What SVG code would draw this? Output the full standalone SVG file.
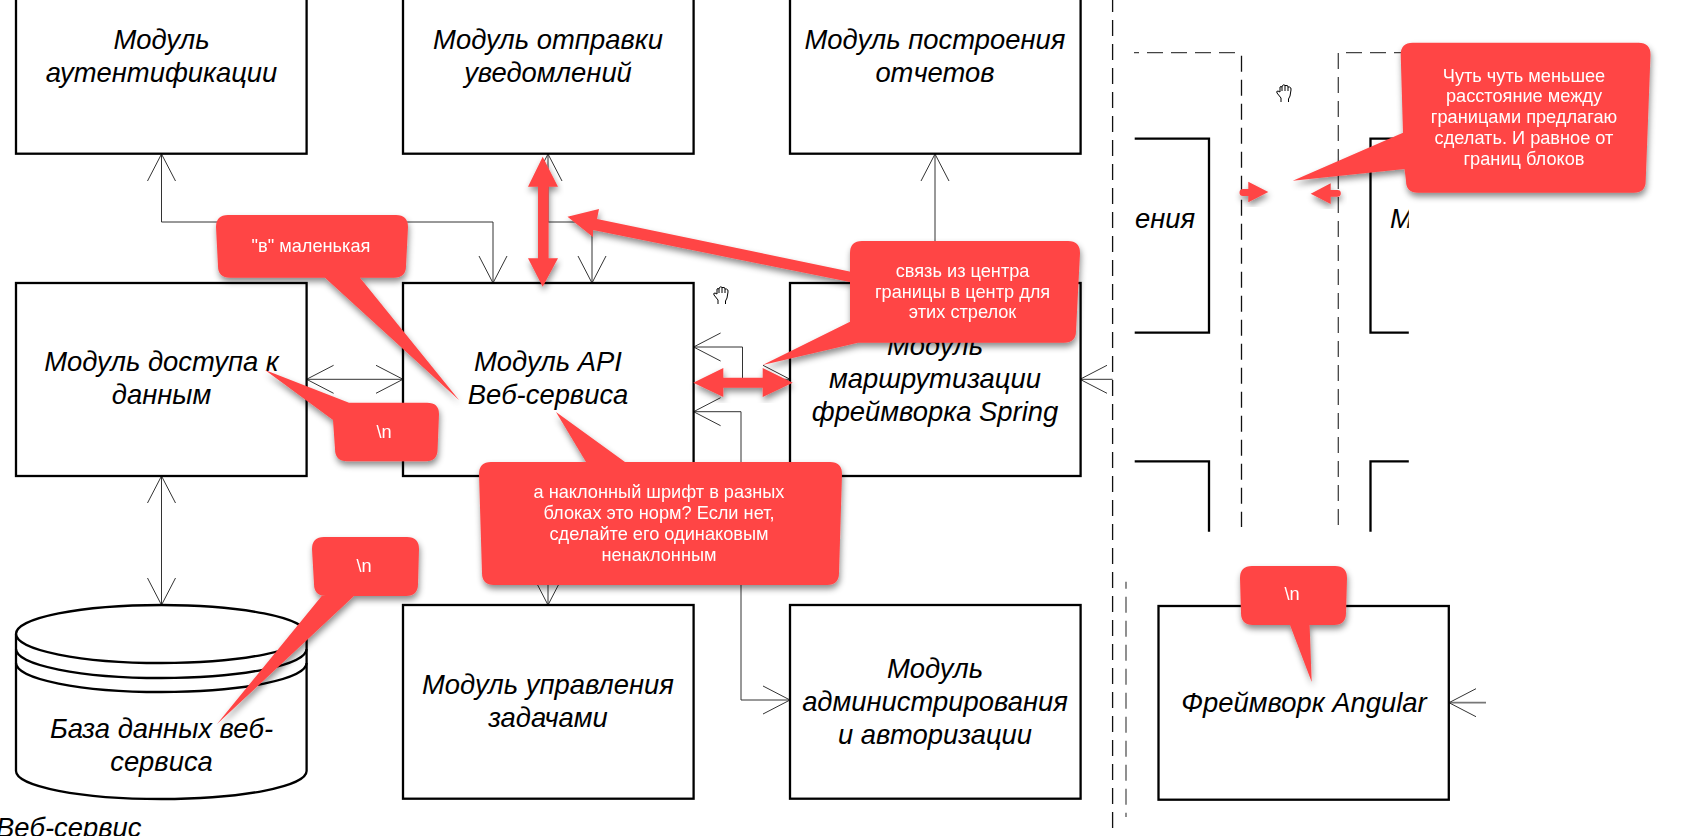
<svg xmlns="http://www.w3.org/2000/svg" width="1691" height="836" viewBox="0 0 1691 836">
<style>
.bg{fill:#fff}
.box{fill:#fff;stroke:#000;stroke-width:2.3}
.open{fill:none;stroke:#000;stroke-width:2.3}
.dash{fill:none;stroke:#111;stroke-width:1.3;stroke-dasharray:16 8}
.c{fill:none;stroke:#333;stroke-width:1}
.t{font-family:"Liberation Sans",Arial,sans-serif;font-style:italic;font-size:27.4px;fill:#000;text-anchor:middle}
.n{font-family:"Liberation Sans",Arial,sans-serif;font-size:18.2px;fill:#fff;text-anchor:middle}
.r{fill:#ff4545}
.hand{fill:#fff;stroke:#000;stroke-width:1}
</style>
<defs>
<marker id="a" markerUnits="userSpaceOnUse" markerWidth="30" markerHeight="32" refX="28" refY="15" orient="auto-start-reverse"><path d="M1 1L28 15L1 29" fill="none" stroke="#333" stroke-width="1"/></marker>
<filter id="s" x="-20%" y="-20%" width="140%" height="140%"><feDropShadow dx="1" dy="4" stdDeviation="3" flood-color="#000" flood-opacity=".45"/></filter>
<clipPath id="mc"><rect x="1370" y="130" width="38.8" height="210"/></clipPath>
<path id="h" d="M5 18V14L1 9Q0 7 2 7L4 8V3Q5 2 6 3L6.5 1.5Q8 0 9 1.5L10 1.5Q12 1 12 3L13.5 3Q15.5 3.5 15 6L14 12L12.5 15V18M6 3V7M9 1.5V7M12 3V7"/>
</defs>
<rect class="bg" width="1691" height="836"/>

<g id="connectors">
<path class="c" d="M161.5 154V222H493V283" marker-start="url(#a)" marker-end="url(#a)"/>
<path class="c" d="M548 154V222H592V283" marker-start="url(#a)" marker-end="url(#a)"/>
<path class="c" d="M935 154V283" marker-start="url(#a)"/>
<path class="c" d="M306.6 379.3H403" marker-start="url(#a)" marker-end="url(#a)"/>
<path class="c" d="M693.6 347H742.5V379.3H790" marker-start="url(#a)" marker-end="url(#a)"/>
<path class="c" d="M693.6 411.7H741V700H790" marker-start="url(#a)" marker-end="url(#a)"/>
<path class="c" d="M741 540H548V605" marker-end="url(#a)"/>
<path class="c" d="M161.5 476V605" marker-start="url(#a)" marker-end="url(#a)"/>
<path class="c" d="M1112.6 379.3H1080" marker-end="url(#a)"/>
<path d="M1486 702.7H1449" fill="none" stroke="#777" stroke-width="1.8"/>
<path d="M1476 688.7L1449 702.7L1476 716.7" fill="none" stroke="#333" stroke-width="1"/>
</g>

<g id="separators">
<path class="dash" d="M1112.6 -4V829"/>
<path class="dash" d="M1126 581.7V817" stroke-dashoffset="9" style="stroke:#555"/>
<path class="dash" d="M1134 52.7H1241.5" stroke-dashoffset="11" style="stroke:#444"/>
<path class="dash" d="M1241.5 55.7V527"/>
<path class="dash" d="M1338.3 525V52.7H1420" style="stroke:#444"/>
</g>

<g id="node-auth"><rect class="box" x="16" y="-40" width="290.6" height="193.7"/><text class="t" x="161.5" y="48.7">Модуль</text><text class="t" x="161.5" y="82">аутентификации</text></g>
<g id="node-notify"><rect class="box" x="403" y="-40" width="290.6" height="193.7"/><text class="t" x="548" y="48.7">Модуль отправки</text><text class="t" x="548" y="82">уведомлений</text></g>
<g id="node-reports"><rect class="box" x="790" y="-40" width="290.6" height="193.7"/><text class="t" x="935" y="48.7">Модуль построения</text><text class="t" x="935" y="82">отчетов</text></g>
<g id="node-data"><rect class="box" x="16" y="283" width="290.6" height="193"/><text class="t" x="161.5" y="370.7">Модуль доступа к</text><text class="t" x="161.5" y="404">данным</text></g>
<g id="node-api"><rect class="box" x="403" y="283" width="290.6" height="193"/><text class="t" x="548" y="370.7">Модуль API</text><text class="t" x="548" y="404">Веб-сервиса</text></g>
<g id="node-routing"><rect class="box" x="790" y="283" width="290.6" height="193"/><text class="t" x="935" y="355">Модуль</text><text class="t" x="935" y="388">маршрутизации</text><text class="t" x="935" y="421">фреймворка Spring</text></g>
<g id="node-db"><path class="box" d="M16 634A145.3 29 0 0 1 306.6 634V771A145.3 28 0 0 1 16 771Z"/><path class="open" d="M16 634A145.3 29 0 0 0 306.6 634M16 649A145.3 29 0 0 0 306.6 649M16 663A145.3 29 0 0 0 306.6 663"/><text class="t" x="161.5" y="738">База данных веб-</text><text class="t" x="161.5" y="770.5">сервиса</text></g>
<g id="node-tasks"><rect class="box" x="403" y="605" width="290.6" height="193.7"/><text class="t" x="548" y="693.5">Модуль управления</text><text class="t" x="548" y="726.5">задачами</text></g>
<g id="node-admin"><rect class="box" x="790" y="605" width="290.6" height="193.7"/><text class="t" x="935" y="677.5">Модуль</text><text class="t" x="935" y="710.5">администрирования</text><text class="t" x="935" y="743.5">и авторизации</text></g>
<g id="node-angular"><rect class="box" x="1158.5" y="606" width="290.3" height="193.7"/><text class="t" x="1304" y="711.5">Фреймворк Angular</text></g>
<g id="node-left-clipped"><path class="open" d="M1134.7 138.7H1209V332.7H1134.7M1134.7 461.3H1209V531.7"/><text class="t" x="1135" y="227.7" style="text-anchor:start">ения</text></g>
<g id="node-right-clipped"><path class="open" d="M1408.8 138.7H1370.5V332.7H1408.8M1408.8 461.3H1370.5V531.7"/><text class="t" x="1390" y="227.7" clip-path="url(#mc)" style="text-anchor:start">М</text></g>
<text class="t" x="-4" y="837" style="text-anchor:start">Веб-сервис</text>

<use href="#h" class="hand" x="713" y="286"/>
<use href="#h" class="hand" x="1276" y="84"/>

<g id="annotations">
<g filter="url(#s)"><path class="r" d="M542.7 156.7L558 186.7H548.6V258.3H558L542.7 286.7L528 258.3H538V186.7H528Z"/></g>
<g filter="url(#s)"><path class="r" d="M693.3 382.7L723.3 368V377.7H762.7V368L792.7 382.7L762.7 397V387.7H723.3V397Z"/></g>
<g filter="url(#s)"><path class="r" d="M1268.3 192L1248.3 202.3V196H1243A3.5 3.5 0 0 1 1243 189H1248.3V181.7Z"/></g>
<g filter="url(#s)"><path class="r" d="M1310.7 193.7L1330.7 183.3V190H1337.5A3.3 3.3 0 0 1 1337.5 196.7H1330.7V204Z"/></g>

<g id="note-v" filter="url(#s)"><path class="r" d="M228 215H396Q408 215 408 227L406 266Q406 277.7 394 277.7H360L459 400L325 277.7H230Q218 277.7 218 266L216 227Q216 215 228 215Z"/><text class="n" x="311" y="251.7">"в" маленькая</text></g>
<g id="note-n1" filter="url(#s)"><path class="r" d="M349 402.7H427Q439 402.7 439 414L437.6 449Q437.6 461.3 426 461.3H347Q335 461.3 335 449L333 420L265 370Z"/><text class="n" x="384" y="437.7">\n</text></g>
<g id="note-italic" filter="url(#s)"><path class="r" d="M586 462L556 412L625 462H830Q842 462 842 474L839 573Q839 585 827 585H494Q482 585 482 573L479 474Q479 462 491 462Z"/><text class="n" x="659" y="497.7">а наклонный шрифт в разных</text><text class="n" x="659" y="519">блоках это норм? Если нет,</text><text class="n" x="659" y="540">сделайте его одинаковым</text><text class="n" x="659" y="561">ненаклонным</text></g>
<g id="note-n2" filter="url(#s)"><path class="r" d="M324 537H407Q419 537 419 549L418 584Q418 596 406 596H354L217 724L321.7 596H326Q314 596 314 584L312 549Q312 537 324 537Z"/><text class="n" x="364" y="571.7">\n</text></g>
<g id="note-n3" filter="url(#s)"><path class="r" d="M1252 566H1335Q1347 566 1347 578L1346 613Q1346 625 1334 625H1309.6L1311.7 682L1290 625H1253Q1241 625 1241 613L1240 578Q1240 566 1252 566Z"/><text class="n" x="1292" y="600">\n</text></g>
<g id="note-link" filter="url(#s)"><path class="r" d="M567.5 216.7L599 209L597 219L852 272A5 5 0 0 1 850 282L593 230L593 237Z"/><path class="r" d="M862 241H1068Q1080 241 1080 253L1076 331Q1076 342.7 1064 342.7H858L762.7 365L850 321.7V253Q850 241 862 241Z"/><text class="n" x="962.6" y="276.7">связь из центра</text><text class="n" x="962.6" y="297.7">границы в центр для</text><text class="n" x="962.6" y="318.3">этих стрелок</text></g>
<g id="note-distance" filter="url(#s)"><path class="r" d="M1412.7 42.7H1638.5Q1650.5 42.7 1650.5 54.7L1645.7 180.7Q1645.7 192.7 1633.7 192.7H1418Q1406 192.7 1406 180.7L1404.5 169L1292.8 180.7L1403 132.7L1400.7 54.7Q1400.7 42.7 1412.7 42.7Z"/><text class="n" x="1524" y="81.7">Чуть чуть меньшее</text><text class="n" x="1524" y="102.3">расстояние между</text><text class="n" x="1524" y="123.3">границами предлагаю</text><text class="n" x="1524" y="144.3">сделать. И равное от</text><text class="n" x="1524" y="165.3">границ блоков</text></g>
</g>
</svg>
